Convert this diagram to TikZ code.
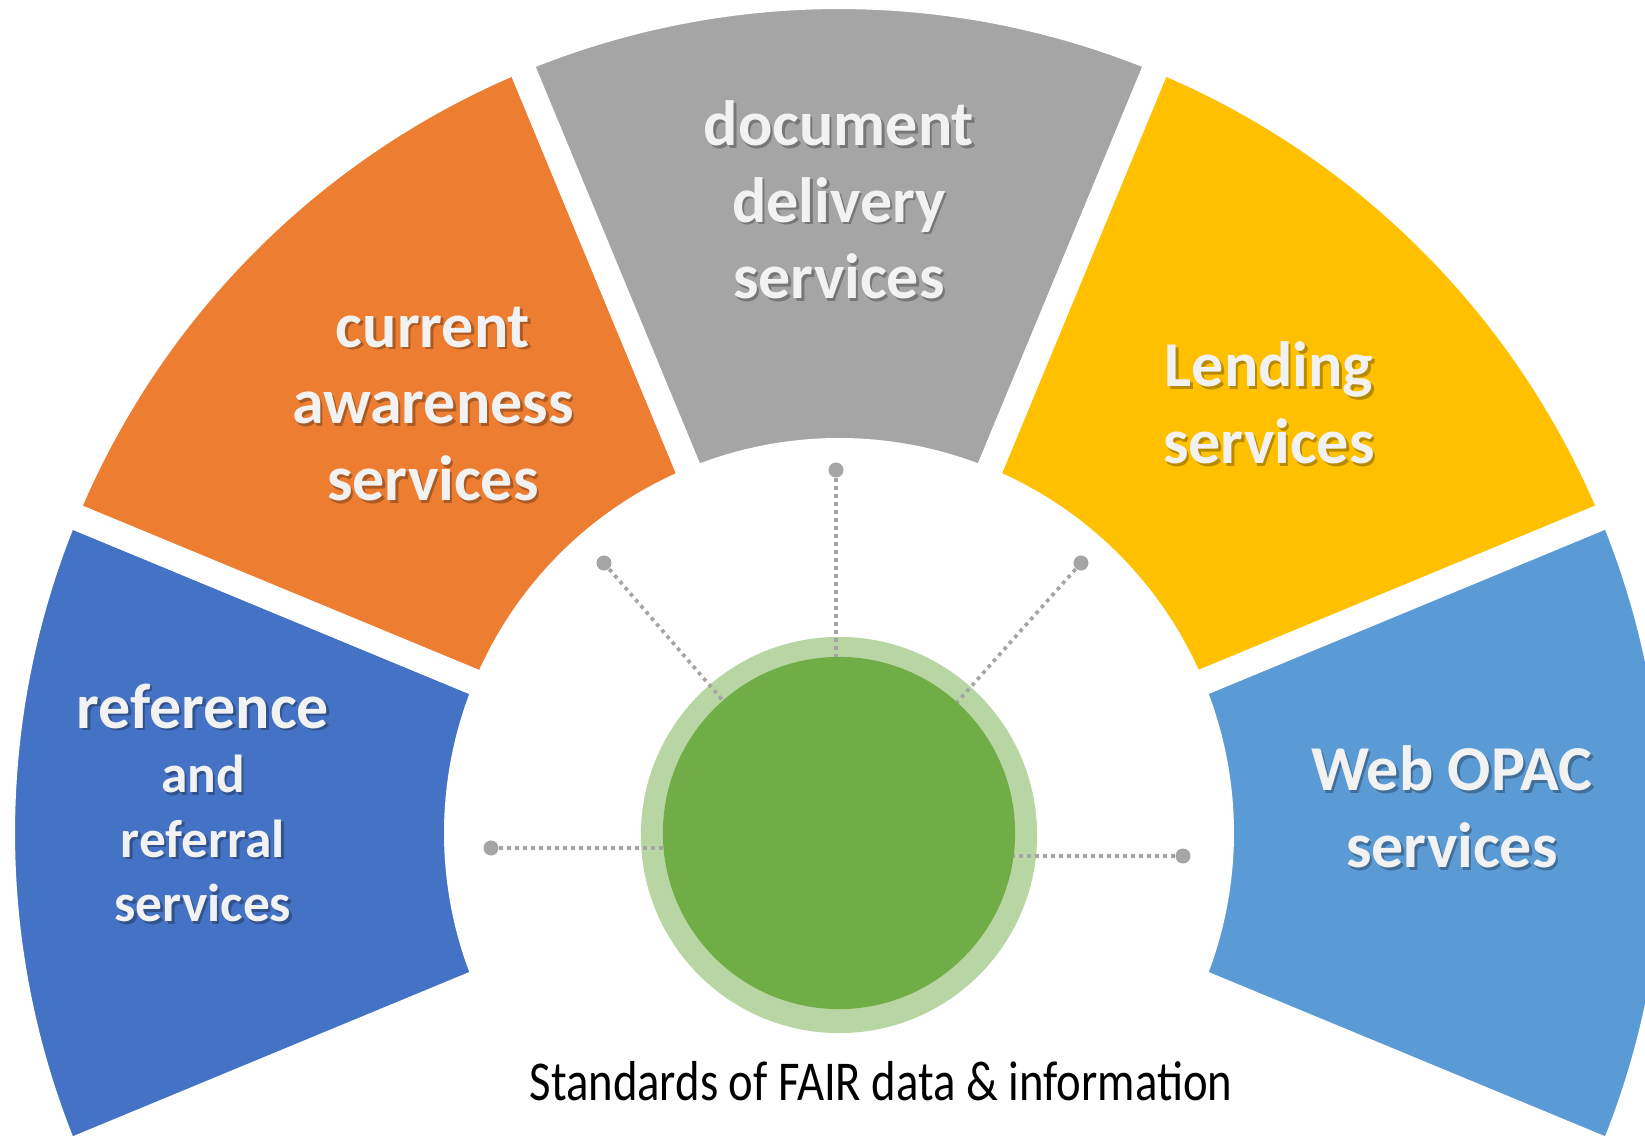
\documentclass[tikz,border=0pt]{standalone}
\usepackage{fontspec}
\setmainfont{Carlito}
\usepackage{graphicx}
\usepackage{xcolor}
\usepackage{tikz}

\definecolor{refblue}{HTML}{4472C4}
\definecolor{awareorange}{HTML}{ED7D31}
\definecolor{docgray}{HTML}{A5A5A5}
\definecolor{lendyellow}{HTML}{FFC000}
\definecolor{opacblue}{HTML}{5B9BD5}
\definecolor{hubgreen}{HTML}{70AD47}
\definecolor{ringgreen}{HTML}{B8D6A3}
\definecolor{labelwhite}{HTML}{F2F2F2}
\definecolor{dotgray}{HTML}{A5A5A5}

\begin{document}
\begin{tikzpicture}[x=0.01cm,y=0.01cm,
    sector/.style={draw=white,line width=0.26cm,line join=miter},
    servicetext/.style={text=labelwhite,align=center,inner sep=0pt,font=\bfseries\fontsize{18.2}{21.8}\selectfont},
    serviceshadow/.style={servicetext,text=black,text opacity=0.28,xshift=0.7pt,yshift=-0.7pt},
    smalltext/.style={font=\bfseries\fontsize{15.2}{18.3}\selectfont},
    dot/.style={circle,fill=dotgray,inner sep=0pt,minimum size=0.15cm},
    link/.style={draw=dotgray,line width=0.037cm,dash pattern=on 0.037cm off 0.043cm}]
  \useasboundingbox (-839,-303) rectangle (806,833);
  \clip (-839,-303) rectangle (806,833);
  % the five service sectors
  \foreach \a/\col in {157.5/refblue,112.5/awareorange,67.5/docgray,22.5/lendyellow,-22.5/opacblue}
    \filldraw[sector,fill=\col] (\a:837) arc[start angle=\a,end angle=\a+45,radius=837]
      -- ({\a+45}:382) arc[start angle=\a+45,end angle=\a,radius=382] -- cycle;
  % labels, shadow first
  \foreach \sty in {serviceshadow,servicetext} {
    \node[\sty,smalltext] (ref-\sty) at (-636,30) {{\fontsize{18.2}{21.8}\selectfont reference}\\and\\referral\\services};
    \node[\sty] (aware-\sty) at (-406,429) {current\\awareness\\services};
    \node[\sty] (doc-\sty) at (0,633) {document\\delivery\\services};
    \node[\sty] (lend-\sty) at (430,430) {Lending\\services};
    \node[\sty] (opac-\sty) at (613,26) {Web OPAC\\services};
  }
  % hub
  \node[circle,fill=ringgreen,inner sep=0pt,minimum size=3.96cm] (ring) at (0,-2) {};
  \node[dot] (dL) at (-348,-15) {};
  \node[dot] (dUL) at (-235,270) {};
  \node[dot] (dT) at (-3,363) {};
  \node[dot] (dUR) at (242,270) {};
  \node[dot] (dR) at (344,-23) {};
  \draw[link] (dL) -- (dL -| ring.center);
  \draw[link] (dUL) -- (ring.center);
  \draw[link] (dT) -- (dT |- ring.center);
  \draw[link] (dUR) -- (ring.center);
  \draw[link] (dR) -- (dR -| ring.center);
  \node[circle,fill=hubgreen,inner sep=0pt,minimum size=3.52cm] (hub) at (0,0) {};
  \node[font=\fontsize{16}{19}\selectfont] (title) at (42,-248) {\scalebox{0.83}[1]{Standards of FAIR data \& information}};
\end{tikzpicture}
\end{document}
